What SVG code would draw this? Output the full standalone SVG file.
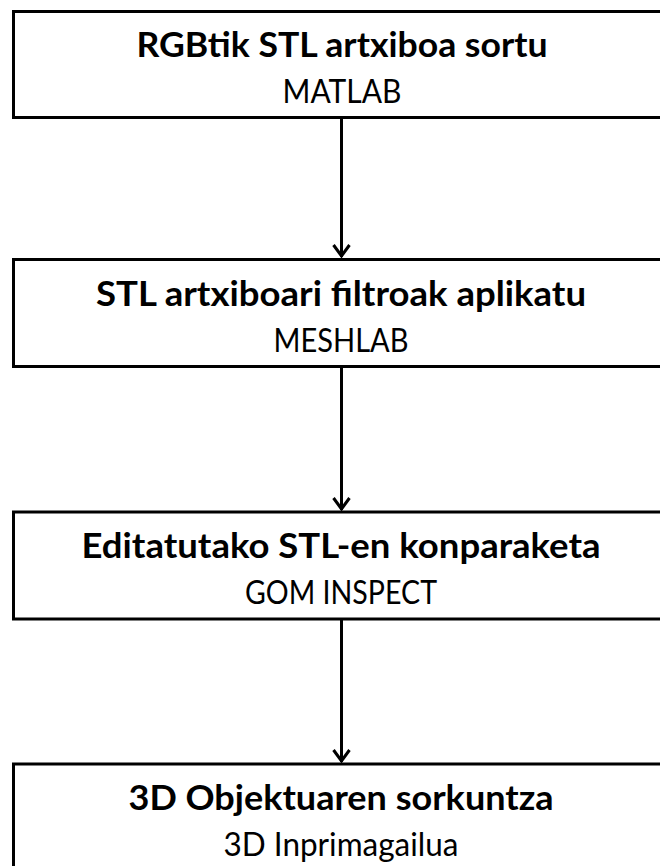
<svg xmlns="http://www.w3.org/2000/svg" width="660" height="866" viewBox="0 0 660 866">
<style>
.box{fill:#fff;stroke:#000;stroke-width:3}
.t{font-family:Lato,"Open Sans","Liberation Sans",sans-serif;font-weight:bold;font-size:34px;fill:#000;text-anchor:middle}
.s{font-family:Lato,"Open Sans","Liberation Sans",sans-serif;font-size:32px;fill:#000;text-anchor:middle}
.c{stroke:#000;stroke-width:3;fill:none}
</style>
<defs>
<marker id="ah" markerUnits="userSpaceOnUse" markerWidth="20" markerHeight="24" viewBox="-16 -12 20 24" refX="0" refY="0" orient="auto" overflow="visible">
<path d="M-12,-8 L-1,0 L-12,8" fill="none" stroke="#000" stroke-width="3"/>
</marker>
</defs>
<g id="connectors">
<path class="c" d="M341.5,118 V257" marker-end="url(#ah)"/>
<path class="c" d="M341.5,367 V510" marker-end="url(#ah)"/>
<path class="c" d="M341.5,619 V762" marker-end="url(#ah)"/>
</g>
<g id="node1">
<rect class="box" x="13.5" y="11.5" width="700" height="106"/>
<text class="t" x="342" y="57" textLength="411" lengthAdjust="spacingAndGlyphs">RGBtik STL artxiboa sortu</text>
<text class="s" x="342" y="103" textLength="119" lengthAdjust="spacingAndGlyphs">MATLAB</text>
</g>
<g id="node2">
<rect class="box" x="13.5" y="259.5" width="700" height="107"/>
<text class="t" x="341" y="306" textLength="490" lengthAdjust="spacingAndGlyphs">STL artxiboari filtroak aplikatu</text>
<text class="s" x="341" y="352" textLength="135" lengthAdjust="spacingAndGlyphs">MESHLAB</text>
</g>
<g id="node3">
<rect class="box" x="13.5" y="512" width="700" height="107"/>
<text class="t" x="341" y="558" textLength="519" lengthAdjust="spacingAndGlyphs">Editatutako STL-en konparaketa</text>
<text class="s" x="341" y="604" textLength="192" lengthAdjust="spacingAndGlyphs">GOM INSPECT</text>
</g>
<g id="node4">
<rect class="box" x="13.5" y="764" width="700" height="120"/>
<text class="t" x="341" y="810" textLength="425" lengthAdjust="spacingAndGlyphs">3D Objektuaren sorkuntza</text>
<text class="s" x="341" y="856" textLength="235" lengthAdjust="spacingAndGlyphs">3D Inprimagailua</text>
</g>
</svg>
